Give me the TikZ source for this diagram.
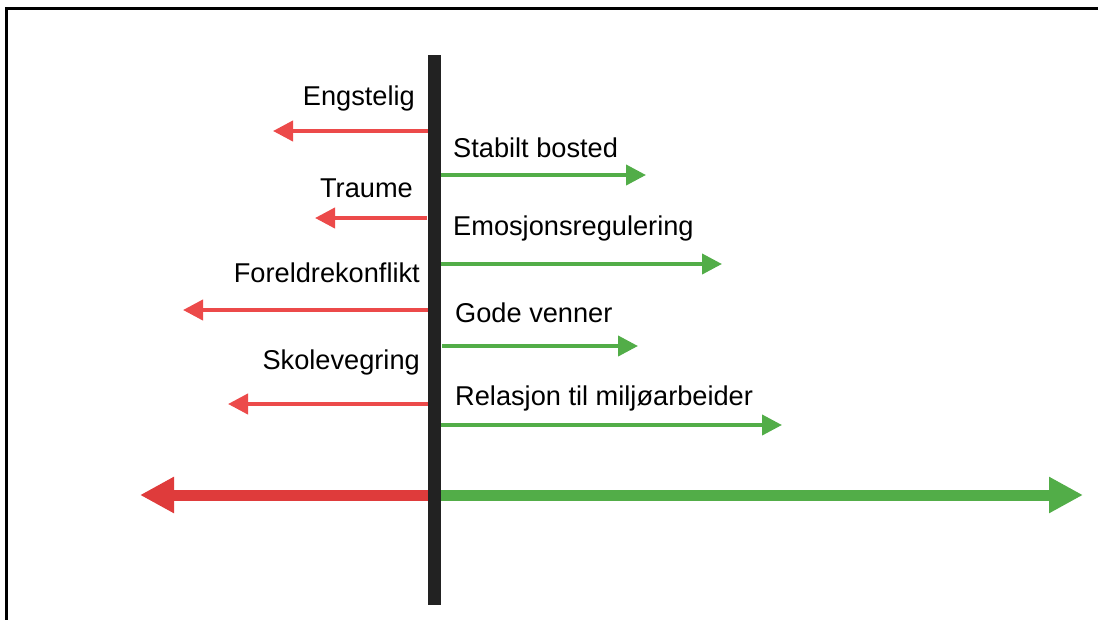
\documentclass[tikz,border=0pt]{standalone}
\usepackage{fontspec}
\setmainfont{Liberation Sans}
\usetikzlibrary{arrows.meta}
\definecolor{barc}{HTML}{222222}
\definecolor{redA}{HTML}{EC4A4A}
\definecolor{redB}{HTML}{DF3B3B}
\definecolor{grnA}{HTML}{52AD48}
\begin{document}
\begin{tikzpicture}[x=1pt,y=-1pt,
  lbl/.style={inner sep=0pt,font=\fontsize{27.2}{31}\selectfont},
  redsmall/.style={draw=redA,line width=4pt,-{Triangle[length=20pt,width=20pt]}},
  grnsmall/.style={draw=grnA,line width=4pt,-{Triangle[length=20pt,width=20pt]}},
  redbig/.style={draw=redB,line width=11pt,-{Triangle[length=34pt,width=34pt]}},
  grnbig/.style={draw=grnA,line width=11pt,-{Triangle[length=34pt,width=34pt]}}]
\useasboundingbox (0,0) rectangle (1098,619);
\clip (0,0) rectangle (1098,619);
\draw[line width=3pt,black] (6.5,8) rectangle (1110,640);
% labels
\node[lbl,anchor=base east] (engstelig) at (415,105) {Engstelig};
\node[lbl,anchor=base west] (stabilt) at (453,157) {Stabilt bosted};
\node[lbl,anchor=base east] (traume) at (413,197) {Traume};
\node[lbl,anchor=base west] (emosjon) at (453,235) {Emosjonsregulering};
\node[lbl,anchor=base east] (foreldre) at (420,282) {Foreldrekonflikt};
\node[lbl,anchor=base west] (gode) at (455,322) {Gode venner};
\node[lbl,anchor=base east] (skole) at (420,369) {Skolevegring};
\node[lbl,anchor=base west] (relasjon) at (455,405) {Relasjon til miljøarbeider};
% arrow coordinates
\coordinate (r1s) at (429,131); \coordinate (r1e) at (273,131);
\coordinate (g1s) at (440,175); \coordinate (g1e) at (646,175);
\coordinate (r2s) at (427,218); \coordinate (r2e) at (315,218);
\coordinate (g2s) at (440,264); \coordinate (g2e) at (722,264);
\coordinate (r3s) at (429,310); \coordinate (r3e) at (183,310);
\coordinate (g3s) at (442,346); \coordinate (g3e) at (638,346);
\coordinate (r4s) at (429,404); \coordinate (r4e) at (228,404);
\coordinate (g4s) at (441,425); \coordinate (g4e) at (782,425);
\coordinate (rbs) at (432,495); \coordinate (rbe) at (140,495);
\coordinate (gbs) at (437,495); \coordinate (gbe) at (1083,495);
\draw[redsmall] (r1s) -- (r1e);
\draw[grnsmall] (g1s) -- (g1e);
\draw[redsmall] (r2s) -- (r2e);
\draw[grnsmall] (g2s) -- (g2e);
\draw[redsmall] (r3s) -- (r3e);
\draw[grnsmall] (g3s) -- (g3e);
\draw[redsmall] (r4s) -- (r4e);
\draw[grnsmall] (g4s) -- (g4e);
\draw[redbig] (rbs) -- (rbe);
\draw[grnbig] (gbs) -- (gbe);
% central bar
\node[fill=barc,inner sep=0pt,minimum width=13pt,minimum height=550pt] (bar) at (434.5,330) {};
\end{tikzpicture}
\end{document}
